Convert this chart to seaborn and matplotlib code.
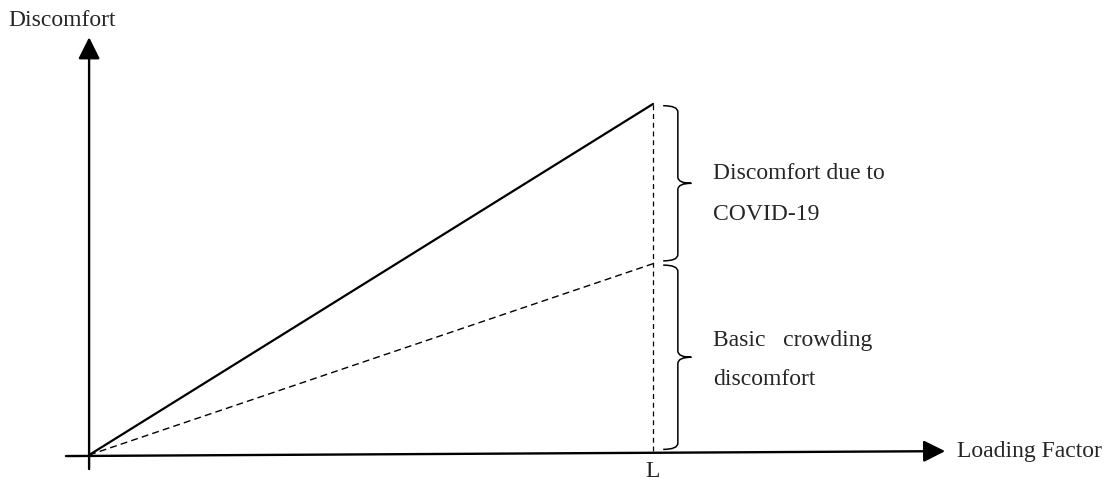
import numpy as np
import pandas as pd
import matplotlib
matplotlib.use("Agg")
import matplotlib.pyplot as plt
from matplotlib.path import Path
from matplotlib.patches import PathPatch
import seaborn as sns

# Conceptual data: loading factor (0 -> L) vs discomfort
loading = [0.0, 1.0]
total_discomfort = [0.0, 1.0]      # basic + COVID-19 related
basic_discomfort = [0.0, 0.545]    # basic crowding only
L_value = 1.0

axis_labels = ["Discomfort", "Loading Factor"]
brace_labels = [["Discomfort due to", "COVID-19"], ["Basic   crowding", "discomfort"]]

sns.set_theme(style="white")
plt.rcParams["font.family"] = ["Liberation Serif", "DejaVu Serif"]

fig = plt.figure(figsize=(11.07, 4.81), dpi=100)
ax = fig.add_axes([0, 0, 1, 1])
ax.set_xlim(-0.158, 1.805)
ax.set_ylim(-0.0712, 1.299)
ax.axis("off")

df = pd.DataFrame({"x": loading, "total": total_discomfort, "basic": basic_discomfort})

# main lines
sns.lineplot(data=df, x="x", y="total", ax=ax, color="black", lw=1.6)
sns.lineplot(data=df, x="x", y="basic", ax=ax, color="black", lw=1.0,
             linestyle=(0, (5, 3)))

# vertical dotted line at L
ax.plot([L_value, L_value], [0.012, total_discomfort[-1]], color="black",
        lw=0.9, linestyle=(0, (4, 3)))

# axes with arrows
arrow = dict(arrowstyle="-|>,head_length=1.1,head_width=0.55", color="black",
             lw=1.7, shrinkA=0, shrinkB=0)
ax.annotate("", xy=(1.518, 0.011), xytext=(-0.041, -0.003), arrowprops=arrow)
ax.annotate("", xy=(0.0, 1.19), xytext=(0.0, -0.04), arrowprops=arrow)

fs = 17
ax.text(-0.1436, 1.24, axis_labels[0], fontsize=fs, ha="left", va="center")
ax.text(1.539, 0.012, axis_labels[1], fontsize=fs, ha="left", va="center")
ax.text(L_value, -0.045, "L", fontsize=fs, ha="center", va="center")


def brace(y0, y1, x_left=1.018, x_mid=1.044, x_tip=1.068, r=0.018):
    ym = (y0 + y1) / 2
    verts = [
        (x_left, y1), (x_mid, y1), (x_mid, y1 - r),
        (x_mid, ym + r),
        (x_mid, ym), (x_tip, ym),
        (x_mid, ym), (x_mid, ym - r),
        (x_mid, y0 + r),
        (x_mid, y0), (x_left, y0),
    ]
    codes = [Path.MOVETO, Path.CURVE3, Path.CURVE3, Path.LINETO,
             Path.CURVE3, Path.CURVE3, Path.CURVE3, Path.CURVE3,
             Path.LINETO, Path.CURVE3, Path.CURVE3]
    ax.add_patch(PathPatch(Path(verts, codes), fill=False, lw=1.1, color="black"))
    return ym


brace(basic_discomfort[-1] + 0.008, total_discomfort[-1] - 0.005)
brace(0.016, basic_discomfort[-1] - 0.004)

ax.text(1.106, 0.806, brace_labels[0][0], fontsize=fs, ha="left", va="center")
ax.text(1.106, 0.687, brace_labels[0][1], fontsize=fs, ha="left", va="center")
ax.text(1.106, 0.330, brace_labels[1][0], fontsize=fs, ha="left", va="center")
ax.text(1.106, 0.217, brace_labels[1][1], fontsize=fs, ha="left", va="center")

fig.savefig("out.png", dpi=100)
